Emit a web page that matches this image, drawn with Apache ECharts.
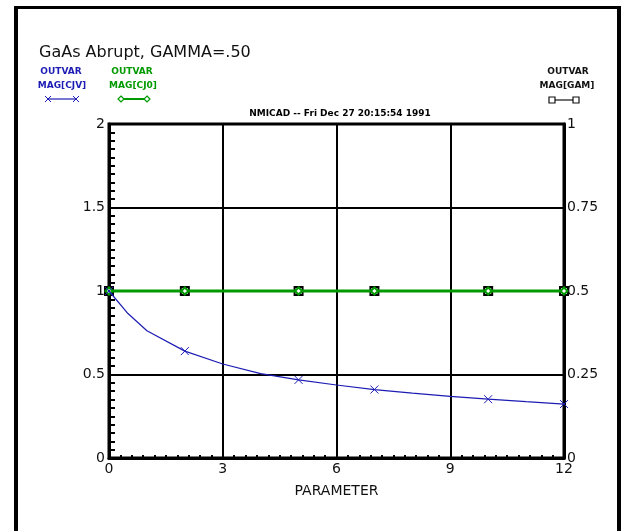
<!DOCTYPE html>
<html>
<head>
<meta charset="utf-8">
<script src="https://cdn.jsdelivr.net/npm/echarts@6/dist/echarts.min.js"></script>
<style>
  html, body { margin: 0; padding: 0; background: #fff; }
  #main { width: 623px; height: 531px; }
</style>
</head>
<body>
<div id="main"></div>
<script>
// sweep values
const paramX = [0, 0.5, 1, 2, 3, 4, 5, 6, 7, 8, 9, 10, 11, 12];
const magCJV = [1.0, 0.865, 0.762, 0.64, 0.563, 0.505, 0.468, 0.437, 0.41, 0.388, 0.369, 0.352, 0.337, 0.323];
const magCJ0 = [1, 1, 1, 1, 1, 1, 1, 1, 1, 1, 1, 1, 1, 1];
const magGAM = [0.5, 0.5, 0.5, 0.5, 0.5, 0.5, 0.5, 0.5, 0.5, 0.5, 0.5, 0.5, 0.5, 0.5];
const markerX = [0, 2, 5, 7, 10, 12];

const BLUE = '#1c1cb4';
const GREEN = '#009a00';
const FONT = 'DejaVu Sans';
const crossPath = 'path://M0,0L10,10M10,0L0,10';

// only some sweep points carry a marker
function toData(ys) {
  return paramX.map((x, i) => {
    if (markerX.indexOf(x) >= 0) return [x, ys[i]];
    return { value: [x, ys[i]], symbol: 'none' };
  });
}

var chart = echarts.init(document.getElementById('main'), null, { renderer: 'canvas' });

var option = {
  backgroundColor: '#fff',
  animation: false,
  grid: {
    left: 109, right: 59, top: 124, bottom: 73,
    show: true, borderColor: '#000', borderWidth: 3, backgroundColor: 'transparent'
  },
  xAxis: {
    type: 'value', min: 0, max: 12, interval: 3,
    name: 'PARAMETER', nameLocation: 'middle', nameGap: 26,
    nameTextStyle: { fontFamily: FONT, fontSize: 14, color: '#111' },
    axisLine: { lineStyle: { color: '#000', width: 3 } },
    axisTick: { show: false, inside: true },
    minorTick: { show: true, splitNumber: 10, length: 3, lineStyle: { color: '#000', width: 2 } },
    splitLine: { show: true, lineStyle: { color: '#000', width: 2 } },
    axisLabel: { fontFamily: FONT, fontSize: 14, color: '#111', margin: 4 }
  },
  yAxis: [{
    type: 'value', min: 0, max: 2, interval: 0.5,
    axisLine: { show: true, lineStyle: { color: '#000', width: 3 } },
    axisTick: { show: false, inside: true },
    minorTick: { show: true, splitNumber: 10, length: 6, lineStyle: { color: '#000', width: 2 } },
    splitLine: { show: true, lineStyle: { color: '#000', width: 2 } },
    axisLabel: { fontFamily: FONT, fontSize: 14, color: '#111', margin: 4 }
  }, {
    type: 'value', min: 0, max: 1, interval: 0.25, position: 'right',
    axisLine: { show: true, lineStyle: { color: '#000', width: 3 } },
    axisTick: { show: false },
    splitLine: { show: false },
    axisLabel: { fontFamily: FONT, fontSize: 14, color: '#111', margin: 3 }
  }],
  series: [{
    name: 'MAG[GAM]', type: 'line', yAxisIndex: 1, z: 3,
    data: toData(magGAM),
    symbol: 'emptyRect', symbolSize: 8,
    lineStyle: { color: '#000', width: 2 },
    itemStyle: { color: '#000', borderColor: '#333', borderWidth: 1 }
  }, {
    name: 'MAG[CJ0]', type: 'line', yAxisIndex: 0, z: 4,
    data: toData(magCJ0),
    symbol: 'emptyDiamond', symbolSize: 7,
    lineStyle: { color: GREEN, width: 3 },
    itemStyle: { color: GREEN, borderColor: GREEN, borderWidth: 1.2 }
  }, {
    name: 'MAG[CJV]', type: 'line', yAxisIndex: 0, z: 5,
    data: toData(magCJV),
    symbol: crossPath, symbolSize: 8,
    lineStyle: { color: BLUE, width: 1.2 },
    itemStyle: { color: BLUE, borderColor: BLUE, borderWidth: 1 }
  }],
  graphic: [
    // frame
    { type: 'line', shape: { x1: 16, y1: 7, x2: 16, y2: 531 }, style: { stroke: '#000', lineWidth: 4 } },
    { type: 'line', shape: { x1: 14, y1: 7.5, x2: 621, y2: 7.5 }, style: { stroke: '#000', lineWidth: 3 } },
    { type: 'line', shape: { x1: 619, y1: 7, x2: 619, y2: 531 }, style: { stroke: '#000', lineWidth: 4 } },
    // titles
    { type: 'text', left: 39, top: 45, style: { text: 'GaAs Abrupt, GAMMA=.50', font: '16px ' + FONT, fill: '#111' } },
    { type: 'text', x: 340, y: 114, style: { text: 'NMICAD -- Fri Dec 27 20:15:54 1991', font: 'bold 9px ' + FONT, fill: '#000', align: 'center', verticalAlign: 'middle' } },
    // legend CJV
    { type: 'text', x: 61, y: 72, style: { text: 'OUTVAR', font: 'bold 9px ' + FONT, fill: BLUE, align: 'center', verticalAlign: 'middle' } },
    { type: 'text', x: 62, y: 86, style: { text: 'MAG[CJV]', font: 'bold 9px ' + FONT, fill: BLUE, align: 'center', verticalAlign: 'middle' } },
    { type: 'line', shape: { x1: 48, y1: 99, x2: 76, y2: 99 }, style: { stroke: BLUE, lineWidth: 1.2 } },
    { type: 'polyline', shape: { points: [[45, 96], [51, 102]] }, style: { stroke: BLUE, lineWidth: 1 } },
    { type: 'polyline', shape: { points: [[45, 102], [51, 96]] }, style: { stroke: BLUE, lineWidth: 1 } },
    { type: 'polyline', shape: { points: [[73, 96], [79, 102]] }, style: { stroke: BLUE, lineWidth: 1 } },
    { type: 'polyline', shape: { points: [[73, 102], [79, 96]] }, style: { stroke: BLUE, lineWidth: 1 } },
    // legend CJ0
    { type: 'text', x: 132, y: 72, style: { text: 'OUTVAR', font: 'bold 9px ' + FONT, fill: GREEN, align: 'center', verticalAlign: 'middle' } },
    { type: 'text', x: 133, y: 86, style: { text: 'MAG[CJ0]', font: 'bold 9px ' + FONT, fill: GREEN, align: 'center', verticalAlign: 'middle' } },
    { type: 'line', shape: { x1: 122, y1: 99, x2: 146, y2: 99 }, style: { stroke: GREEN, lineWidth: 2 } },
    { type: 'polygon', shape: { points: [[121, 96], [124, 99], [121, 102], [118, 99]] }, style: { stroke: GREEN, fill: '#fff', lineWidth: 1.2 } },
    { type: 'polygon', shape: { points: [[147, 96], [150, 99], [147, 102], [144, 99]] }, style: { stroke: GREEN, fill: '#fff', lineWidth: 1.2 } },
    // legend GAM
    { type: 'text', x: 568, y: 72, style: { text: 'OUTVAR', font: 'bold 9px ' + FONT, fill: '#111', align: 'center', verticalAlign: 'middle' } },
    { type: 'text', x: 567, y: 86, style: { text: 'MAG[GAM]', font: 'bold 9px ' + FONT, fill: '#111', align: 'center', verticalAlign: 'middle' } },
    { type: 'line', shape: { x1: 553, y1: 100, x2: 575, y2: 100 }, style: { stroke: '#111', lineWidth: 1.2 } },
    { type: 'rect', shape: { x: 549, y: 97, width: 6, height: 6 }, style: { stroke: '#111', fill: '#fff', lineWidth: 1.2 } },
    { type: 'rect', shape: { x: 573, y: 97, width: 6, height: 6 }, style: { stroke: '#111', fill: '#fff', lineWidth: 1.2 } }
  ]
};

chart.setOption(option);
</script>
</body>
</html>
